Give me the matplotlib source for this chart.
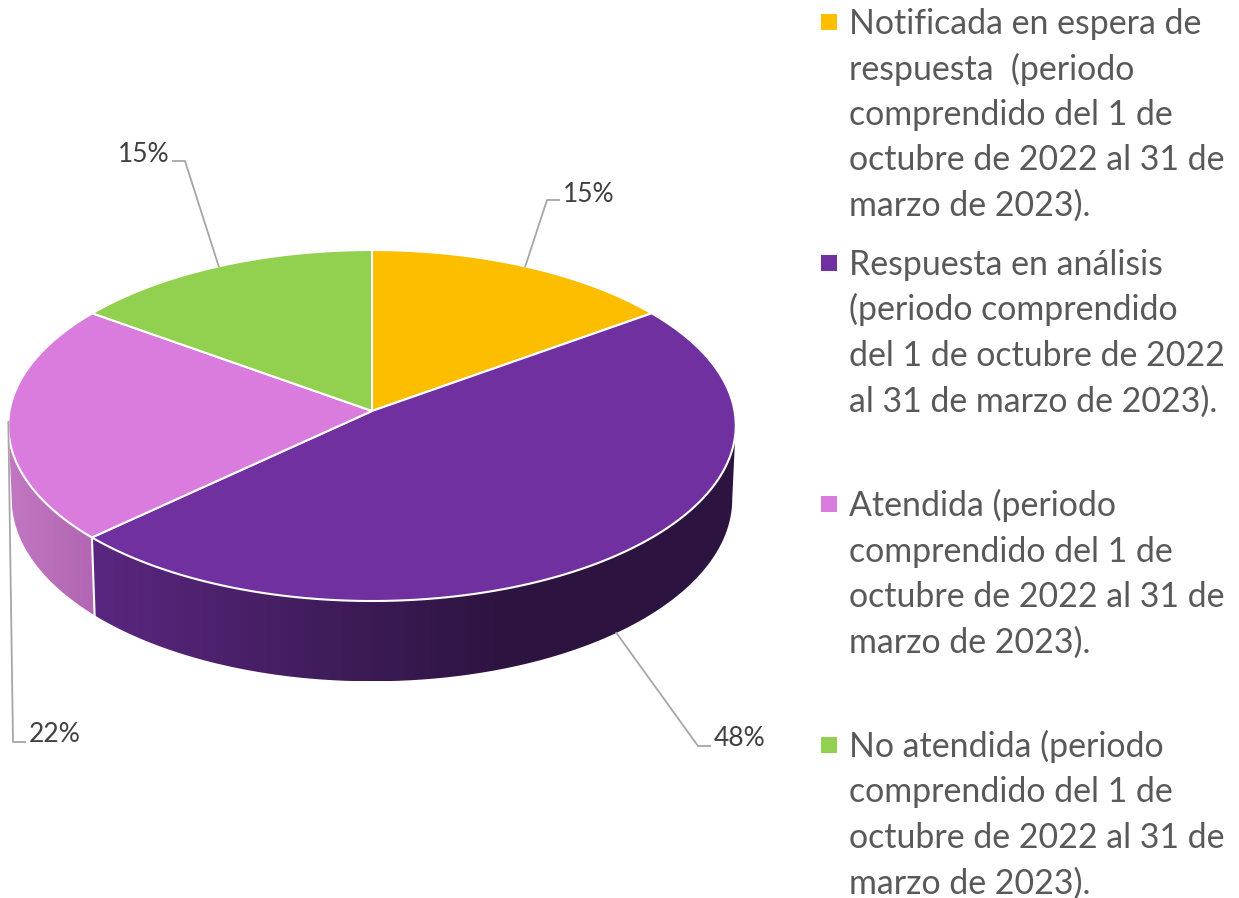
import matplotlib
matplotlib.use("Agg")
import matplotlib.pyplot as plt
from matplotlib.patches import Rectangle, Polygon
from matplotlib.colors import to_rgb
import numpy as np

plt.rcParams["font.family"] = ["Lato", "DejaVu Sans"]

# datos
values = [15, 48, 22, 15]
pct_labels = ["15%", "48%", "22%", "15%"]
legend_lines = [
    ["Notificada en espera de", "respuesta  (periodo", "comprendido del 1 de",
     "octubre de 2022 al 31 de", "marzo de 2023)."],
    ["Respuesta en análisis", "(periodo comprendido", "del 1 de octubre de 2022",
     "al 31 de marzo de 2023)."],
    ["Atendida (periodo", "comprendido del 1 de", "octubre de 2022 al 31 de",
     "marzo de 2023)."],
    ["No atendida (periodo", "comprendido del 1 de", "octubre de 2022 al 31 de",
     "marzo de 2023)."],
]

# estilos
colors = ["#FDBE00", "#7030A0", "#DA7CDE", "#92D050"]
side_colors = [None, ("#5A2780", "#2D1440", 94, 500), ("#C076C0", "#B266B3", 13, 94), None]
leader_color = "#A6A6A6"

# geometria del disco (pixeles de la figura)
cx = 372
top_a, top_b, top_cy = 362.5, 174.3, 411
bot_a, bot_b, bot_cy = 359, 181, 484
k = 0.0826
# angulo donde empieza la parte visible del lateral
side_from = 94.7

# posiciones de las etiquetas: codo, fin de la linea, texto, ha
label_pos = [
    ((547, 200), (559, 200), (563, 195), "left"),
    ((698, 746), (710, 746), (714, 739), "left"),
    ((13, 742), (25, 742), (29, 734), "left"),
    ((185, 161), (173, 161), (170, 154), "right"),
]
label_on_bottom = [False, True, False, False]


def project(theta_deg, a, b, cy):
    th = np.radians(theta_deg)
    u, v = np.sin(th), np.cos(th)
    w = 1 + k * v
    return cx + a * u / w, cy - b * v / w


fig = plt.figure(figsize=(12.39, 8.98), dpi=100)
ax = fig.add_axes([0, 0, 1, 1])

edges = np.cumsum([0] + values) / sum(values) * 360

# lateral del disco, solo la mitad frontal, con degradado horizontal
for i, side in enumerate(side_colors):
    if side is None:
        continue
    th = np.linspace(max(edges[i], side_from), min(edges[i + 1], 360 - side_from), 200)
    xt, yt = project(th, top_a, top_b, top_cy)
    xb, yb = project(th, bot_a, bot_b, bot_cy)
    px = np.r_[xt, xb[::-1]]
    py = np.r_[yt, yb[::-1]]
    c0, c1 = np.array(to_rgb(side[0])), np.array(to_rgb(side[1]))
    xs = np.linspace(px.min(), px.max(), 300)
    f = np.clip((xs - side[2]) / (side[3] - side[2]), 0, 1)[:, None]
    grad = (c0 + (c1 - c0) * f)[None, :, :]
    im = ax.imshow(grad, extent=(px.min(), px.max(), py.max(), py.min()), aspect="auto", interpolation="bilinear")
    clip = Polygon(np.c_[px, py], closed=True, transform=ax.transData)
    im.set_clip_path(clip)

# linea blanca entre los laterales
xt, yt = project(edges[2], top_a, top_b, top_cy)
xb, yb = project(edges[2], bot_a, bot_b, bot_cy)
ax.plot([xt, xb], [yt, yb], color="white", lw=1.5)

# cara superior
for i in range(len(values)):
    th = np.linspace(edges[i], edges[i + 1], 200)
    x, y = project(th, top_a, top_b, top_cy)
    ax.fill(np.r_[cx, x], np.r_[top_cy, y], facecolor=colors[i], edgecolor="white", lw=1.5, joinstyle="round")

# etiquetas con linea guia
for i, lab in enumerate(pct_labels):
    mid = (edges[i] + edges[i + 1]) / 2
    if label_on_bottom[i]:
        x0, y0 = project(mid, bot_a, bot_b, bot_cy)
    else:
        x0, y0 = project(mid, top_a, top_b, top_cy)
    elbow, end, txt, ha = label_pos[i]
    ax.plot([x0, elbow[0], end[0]], [y0, elbow[1], end[1]], color=leader_color, lw=1.3)
    ax.text(txt[0], txt[1], lab, fontsize=19, color="#404040", ha=ha, va="center")

# leyenda
for i, lines in enumerate(legend_lines):
    base = 34 + 241 * i
    ax.add_patch(Rectangle((821, base - 20), 15.5, 15.5, facecolor=colors[i], edgecolor="none"))
    for j, line in enumerate(lines):
        ax.text(849, base + 45.5 * j, line, fontsize=24.4, color="#595959", ha="left", va="baseline")

ax.set_xlim(0, 1239)
ax.set_ylim(898, 0)
ax.axis("off")

fig.savefig("out.png", dpi=100)
